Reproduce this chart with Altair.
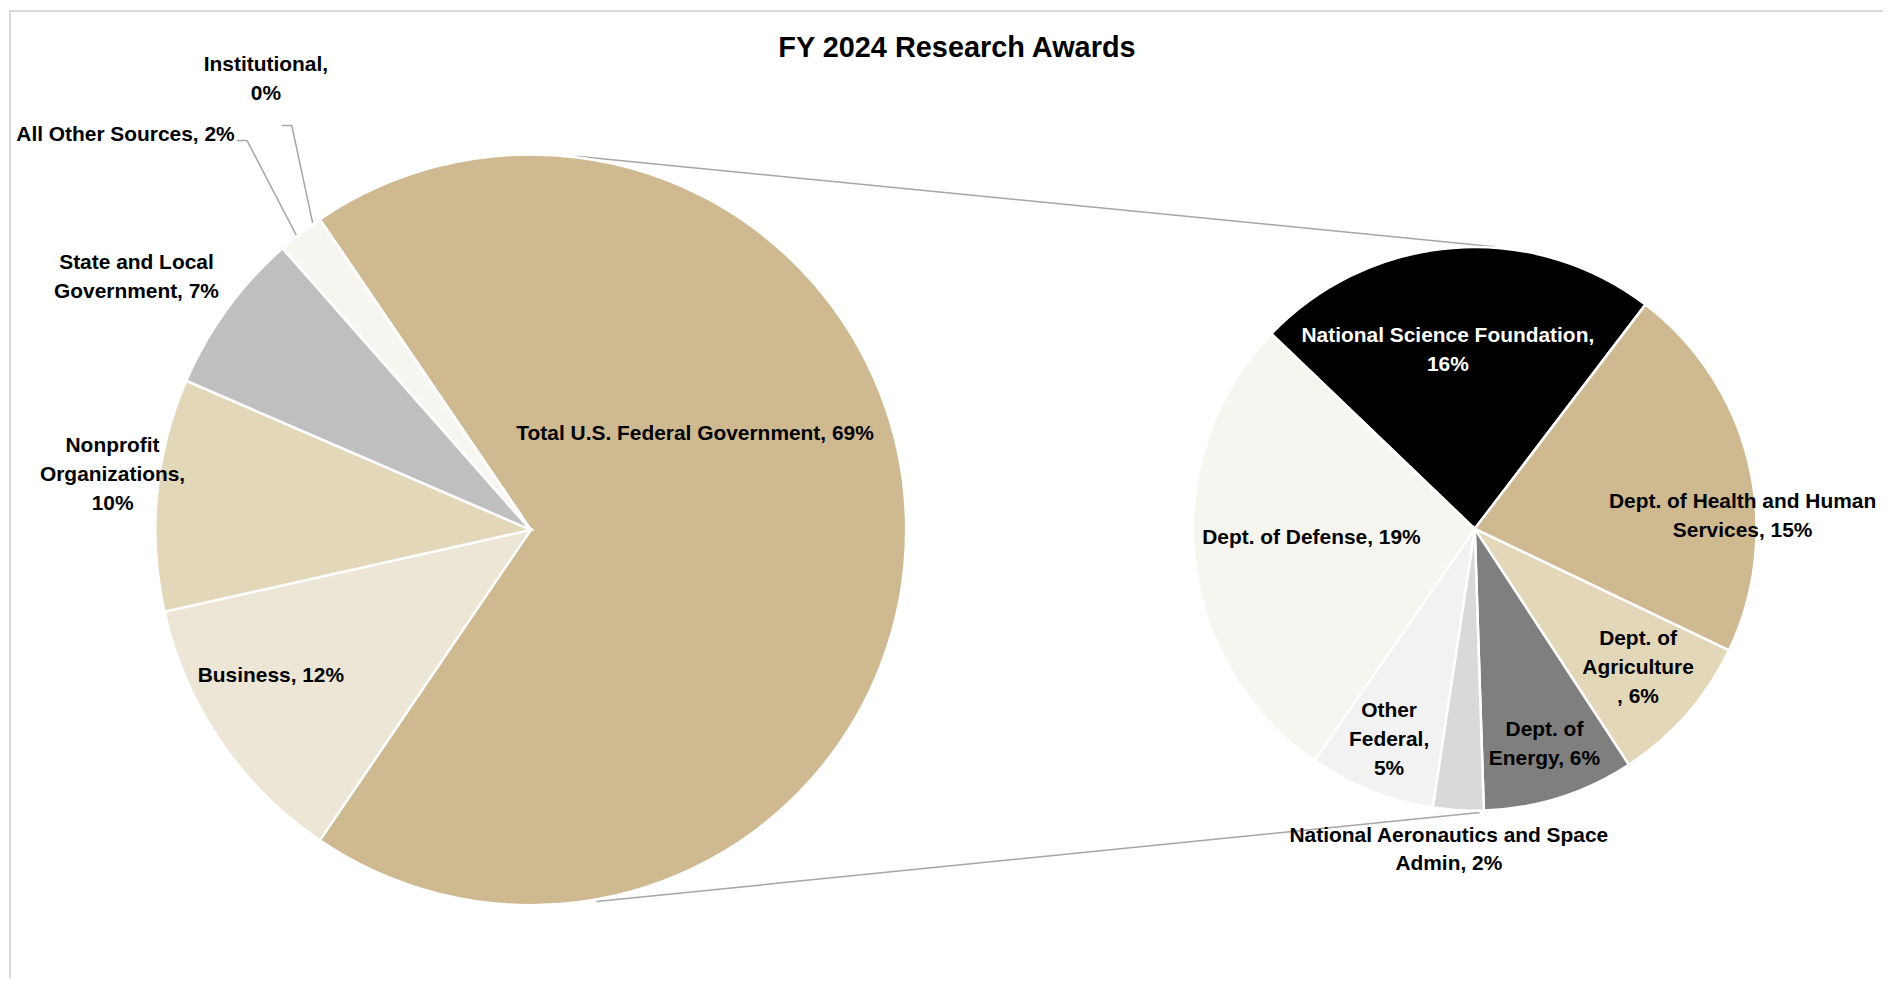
import math
import altair as alt
import pandas as pd

# ---------------- data ----------------
SRC_CATS = ["Total U.S. Federal Government", "Business", "Nonprofit Organizations",
            "State and Local Government", "All Other Sources", "Institutional"]
SRC_VALS = [69, 12, 10, 7, 2, 0]
SRC_LABELS = ["Total U.S. Federal Government, 69%", "Business, 12%",
              "Nonprofit\nOrganizations,\n10%", "State and Local\nGovernment, 7%",
              "All Other Sources, 2%", "Institutional,\n0%"]

FED_CATS = ["National Science Foundation", "Dept. of Health and Human Services",
            "Dept. of Agriculture", "Dept. of Energy",
            "National Aeronautics and Space Admin", "Other Federal", "Dept. of Defense"]
FED_VALS = [16, 15, 6, 6, 2, 5, 19]
FED_LABELS = ["National Science Foundation,\n16%", "Dept. of Health and Human\nServices, 15%",
              "Dept. of\nAgriculture\n, 6%", "Dept. of\nEnergy, 6%",
              "National Aeronautics and Space\nAdmin, 2%", "Other\nFederal,\n5%",
              "Dept. of Defense, 19%"]

TITLE = "FY 2024 Research Awards"

# ---------------- styles ----------------
SRC_COLORS = ["#CFB991", "#EDE6D6", "#E2D7B9", "#BFBFBF", "#F7F5F0", "#D9D9D9"]
FED_COLORS = ["#000000", "#CFB991", "#E2D7B9", "#7F7F7F", "#D9D9D9", "#F2F2F2", "#F7F5F0"]
SRC_TEXT_COLORS = ["#000000"] * 6
FED_TEXT_COLORS = ["#FFFFFF"] + ["#000000"] * 6
FONT = "Liberation Sans"
LINE_COLOR = "#A6A6A6"

# ---------------- layout (page pixel coordinates) ----------------
M = 8  # page margin
W, H = 1883, 972
L_CX, L_CY, L_R = 533, 530, 377
R_CX, R_CY, R_R = 1481, 529, 283
L_START = math.radians(90) - math.pi * SRC_VALS[0] / sum(SRC_VALS)
R_START = math.radians(-46.2)

# anchor of the first line of each label
SRC_LABEL_POS = [(698, 434), (272, 677), (113, 446), (137, 262), (126, 133), (267, 63)]
FED_LABEL_POS = [(1454, 335), (1750, 502), (1645, 640), (1551, 731),
                 (1455, 837), (1395, 712), (1317, 538)]


def polar(cx, cy, r, deg):
    a = math.radians(deg)
    return cx + r * math.sin(a), cy - r * math.cos(a)


# connector lines between the two pies (from geometry)
top_a = polar(L_CX, L_CY, L_R + 1, 7)
top_b = polar(R_CX, R_CY, R_R + 1, 4)
bot_a = polar(L_CX, L_CY, L_R + 2, 170)
bot_b = polar(R_CX, R_CY, R_R + 2, 179)

LEADERS = {
    "other": [(238, 139), (248, 139), (298, 235)],
    "inst": [(283, 124), (293, 124), (314, 222)],
}

# ---------------- tables ----------------
left_df = pd.DataFrame({"cat": SRC_CATS, "val": SRC_VALS, "ord": list(range(len(SRC_CATS)))})
right_df = pd.DataFrame({"cat": FED_CATS, "val": FED_VALS, "ord": list(range(len(FED_CATS)))})

lab_df = pd.DataFrame({
    "label": SRC_LABELS + FED_LABELS,
    "lx": [p[0] - M for p in SRC_LABEL_POS + FED_LABEL_POS],
    "ly": [p[1] - M for p in SRC_LABEL_POS + FED_LABEL_POS],
    "tc": SRC_TEXT_COLORS + FED_TEXT_COLORS,
})

line_rows = []
for name, pts in list(LEADERS.items()) + [("top", [top_a, top_b]), ("bot", [bot_a, bot_b])]:
    for i, (px, py) in enumerate(pts):
        line_rows.append({"id": name, "i": i, "px": px - M, "py": py - M})
line_df = pd.DataFrame(line_rows)

one = pd.DataFrame({"t": [TITLE]})

# ---------------- marks ----------------
left_arc = alt.Chart(left_df).mark_arc(radius=L_R, stroke="white", strokeWidth=2.5).encode(
    theta=alt.Theta("val:Q", stack=True,
                    scale=alt.Scale(range=[L_START, L_START + 2 * math.pi])),
    order=alt.Order("ord:Q"),
    color=alt.Color("cat:N", scale=alt.Scale(domain=SRC_CATS, range=SRC_COLORS), legend=None),
    x=alt.value(L_CX - M),
    y=alt.value(L_CY - M),
)

right_arc = alt.Chart(right_df).mark_arc(radius=R_R, stroke="white", strokeWidth=2.5).encode(
    theta=alt.Theta("val:Q", stack=True,
                    scale=alt.Scale(range=[R_START, R_START + 2 * math.pi])),
    order=alt.Order("ord:Q"),
    color=alt.Color("cat:N", scale=alt.Scale(domain=FED_CATS, range=FED_COLORS), legend=None),
    x=alt.value(R_CX - M),
    y=alt.value(R_CY - M),
)

lines = alt.Chart(line_df).mark_line(color=LINE_COLOR, strokeWidth=1.5).encode(
    x=alt.X("px:Q", scale=None, axis=None),
    y=alt.Y("py:Q", scale=None, axis=None),
    detail="id:N",
    order="i:Q",
)

labels = alt.Chart(lab_df).mark_text(
    font=FONT, fontWeight="bold", fontSize=21, lineBreak="\n", lineHeight=29,
    align="center", baseline="middle",
).encode(
    x=alt.X("lx:Q", scale=None, axis=None),
    y=alt.Y("ly:Q", scale=None, axis=None),
    text="label:N",
    color=alt.Color("tc:N", scale=None),
)

title = alt.Chart(one).mark_text(
    font=FONT, fontWeight="bold", fontSize=29, align="center", baseline="middle", color="#000000"
).encode(text="t:N", x=alt.value(961 - M), y=alt.value(46 - M))

border_left = alt.Chart(one).mark_rule(color="#D9D9D9", strokeWidth=2).encode(
    x=alt.value(2), y=alt.value(0), y2=alt.value(H))
border_top = alt.Chart(one).mark_rule(color="#D9D9D9", strokeWidth=2).encode(
    x=alt.value(2), x2=alt.value(W), y=alt.value(1))

chart = alt.layer(
    border_left, border_top, lines, left_arc, right_arc, labels, title
).resolve_scale(
    theta="independent", color="independent"
).properties(
    width=W, height=H, padding=0, autosize=alt.AutoSizeParams(type="none"),
    background="white",
).configure_view(strokeWidth=0)

chart.save("out.html", embed_options={"renderer": "svg", "actions": False})
